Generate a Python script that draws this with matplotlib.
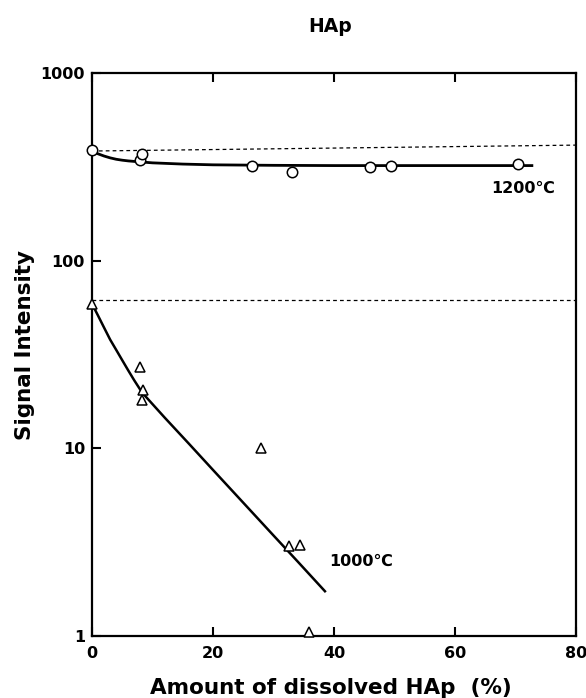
import numpy as np
import matplotlib.pyplot as plt

plt.rcParams['font.family'] = ['DejaVu Sans']
plt.rcParams['font.weight'] = 'bold'

# measured points
x_1200 = [0, 8.0, 8.3, 26.5, 33.0, 46.0, 49.5, 70.4]
y_1200 = [390, 345, 370, 322, 297, 318, 320, 328]
x_1000 = [0, 7.9, 8.4, 8.2, 27.9, 32.6, 34.4, 35.9]
y_1000 = [59, 27, 20.4, 18.2, 10, 3.0, 3.05, 1.05]

# fitted curves
cx_1200 = [0, 1, 2, 3, 4, 5, 6, 7.4, 10, 15, 20, 30, 40, 50, 60, 72.7]
cy_1200 = [385, 372, 362, 354, 348, 344, 341, 338, 333, 328, 325, 323, 322, 322, 322, 322]
cx_1000 = [0, 1, 2, 3, 4, 5, 6, 7, 8.3, 12, 16, 20, 25, 30, 34, 38.5]
cy_1000 = [59, 51, 44, 38, 33.5, 29.5, 26, 23, 19.8, 14.6, 10.6, 7.67, 5.13, 3.43, 2.49, 1.73]

# dashed reference levels
ref_x = [0, 80]
ref_hi = [385, 414]
ref_lo = [62, 62]

fig = plt.figure(figsize=(5.86, 6.98), dpi=100)
ax = fig.add_axes([0.157, 0.089, 0.826, 0.806])

ax.plot(ref_x, ref_hi, ls=(0, (3, 2.5)), color='black', lw=0.9)
ax.plot(ref_x, ref_lo, ls=(0, (3, 2.5)), color='black', lw=0.9)
ax.plot(cx_1200, cy_1200, color='black', lw=2)
ax.plot(cx_1000, cy_1000, color='black', lw=1.8)
ax.plot(x_1200, y_1200, 'o', ms=7.5, mfc='white', mec='black', mew=1.1, clip_on=False, zorder=5)
ax.plot(x_1000, y_1000, '^', ms=7, mfc='white', mec='black', mew=1.1, clip_on=False, zorder=5)

ax.text(71.2, 244, '1200℃', fontsize=11.5, fontweight='bold', ha='center', va='center')
ax.text(44.5, 2.5, '1000℃', fontsize=11.5, fontweight='bold', ha='center', va='center')

ax.set_yscale('log')
ax.set_xlim(0, 80)
ax.set_ylim(1, 1000)
ax.set_xticks([0, 20, 40, 60, 80])
ax.set_yticks([1, 10, 100, 1000])
ax.set_yticklabels(['1', '10', '100', '1000'])
ax.minorticks_off()
ax.tick_params(axis='x', direction='in', top=True, length=6.5, width=1.5, labelsize=11.5, pad=7)
ax.tick_params(axis='y', direction='in', length=6.5, width=1.5, labelsize=11.5, pad=5)
for lab in ax.get_xticklabels() + ax.get_yticklabels():
    lab.set_fontweight('bold')
for s in ax.spines.values():
    s.set_linewidth(1.6)

fig.text(331 / 586, 1 - 688 / 698, 'Amount of dissolved HAp  (%)', fontsize=15.5,
         fontweight='bold', ha='center', va='center')
fig.text(25 / 586, 1 - 345 / 698, 'Signal Intensity', fontsize=15.5, fontweight='bold',
         ha='center', va='center', rotation=90)
fig.text(330 / 586, 1 - 27 / 698, 'HAp', fontsize=13.5, fontweight='bold', ha='center', va='center')

fig.savefig('out.png', dpi=100)
